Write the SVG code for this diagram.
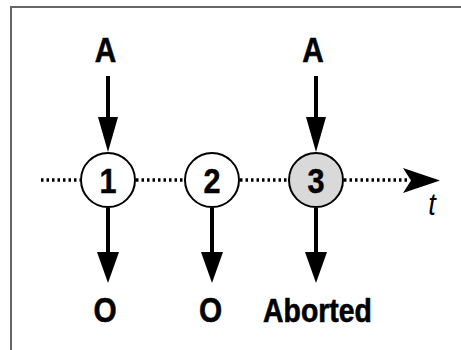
<svg xmlns="http://www.w3.org/2000/svg" width="461" height="350" viewBox="0 0 461 350">
<style>
.lbl{font-family:"Liberation Sans",Arial,sans-serif;font-weight:bold;font-size:35px;text-anchor:middle;fill:#000;stroke:#000;stroke-width:0.6}
.num{font-family:"Liberation Sans",Arial,sans-serif;font-weight:bold;font-size:36px;text-anchor:middle;fill:#000;stroke:#000;stroke-width:0.5}
.node{stroke:#000;stroke-width:2;fill:#fff}
.arr{stroke:#000;stroke-width:4;fill:none}
.head{fill:#000}
.dot{stroke:#000;stroke-width:3.5;stroke-dasharray:2.5 3;fill:none}
</style>
<path d="M11,350 V7 H461" fill="none" stroke="#666" stroke-width="2"/>
<g id="connectors">
<path class="dot" d="M41,180 H80"/>
<path class="dot" d="M136,180 H184"/>
<path class="dot" d="M240,180 H288"/>
<path class="dot" d="M344,180 H410"/>
<path class="head" d="M440,180.5 L403,168 L411,180.5 L403,193 Z"/>
<path class="arr" d="M108,76 V120"/>
<path class="head" d="M98,117 L118,117 L108,152 Z"/>
<path class="arr" d="M108,208 V254"/>
<path class="head" d="M97,252 L119,252 L108,283 Z"/>
<path class="arr" d="M212,208 V254"/>
<path class="head" d="M201,252 L223,252 L212,283 Z"/>
<path class="arr" d="M316,76 V120"/>
<path class="head" d="M306,117 L326,117 L316,152 Z"/>
<path class="arr" d="M316,208 V254"/>
<path class="head" d="M305,252 L327,252 L316,283 Z"/>
</g>
<g id="n1"><circle class="node" cx="108" cy="180" r="27"/><text class="num" transform="translate(108,193) scale(0.85,1)">1</text></g>
<g id="n2"><circle class="node" cx="212" cy="180" r="27"/><text class="num" transform="translate(212,193) scale(0.85,1)">2</text></g>
<g id="n3"><circle class="node" cx="316" cy="180" r="27" style="fill:#d9d9d9"/><text class="num" transform="translate(316,193) scale(0.85,1)">3</text></g>
<g id="labels">
<text class="lbl" transform="translate(105.5,62) scale(0.85,1)">A</text>
<text class="lbl" transform="translate(313,62) scale(0.85,1)">A</text>
<text class="lbl" transform="translate(105,322) scale(0.85,1)">O</text>
<text class="lbl" transform="translate(210.5,322) scale(0.85,1)">O</text>
<text class="lbl" style="font-size:33px" transform="translate(317.5,322) scale(0.86,1)">Aborted</text>
<text x="432" y="215" style="font-family:'Liberation Sans',Arial,sans-serif;font-style:italic;font-size:32px;text-anchor:middle" transform="translate(432,0) scale(0.85,1) translate(-432,0)">t</text>
</g>
</svg>
